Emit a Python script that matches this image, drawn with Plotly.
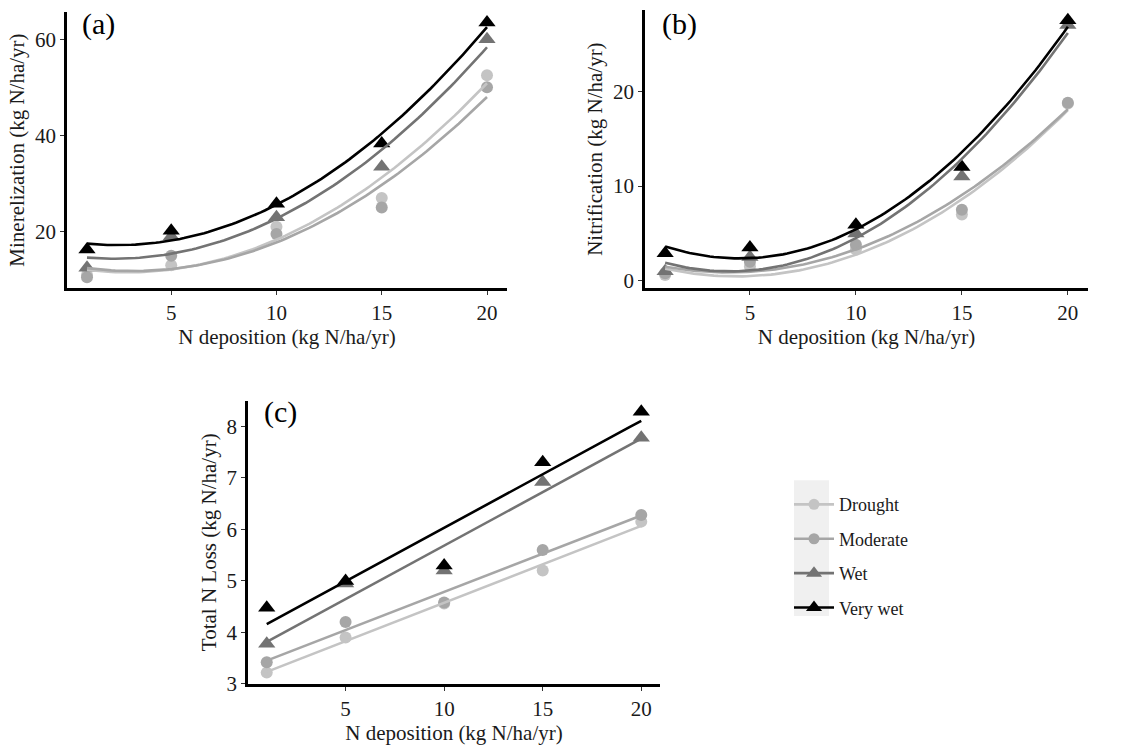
import numpy as np
import plotly.graph_objects as go

# ---------------- data ----------------
n_dep = [1, 5, 10, 15, 20]
groups = ["Drought", "Moderate", "Wet", "Very wet"]

miner = {
    "Drought":  [11.0, 13.0, 21.0, 27.0, 52.5],
    "Moderate": [10.5, 15.0, 19.5, 25.0, 50.0],
    "Wet":      [12.5, 19.0, 23.0, 33.5, 60.0],
    "Very wet": [16.3, 20.2, 25.8, 38.3, 63.5],
}
nitri = {
    "Drought":  [0.6, 1.5, 3.3, 7.0, 18.7],
    "Moderate": [0.8, 2.0, 3.8, 7.5, 18.8],
    "Wet":      [1.0, 2.5, 5.0, 11.0, 27.0],
    "Very wet": [2.9, 3.5, 5.9, 12.0, 27.5],
}
nloss = {
    "Drought":  [3.22, 3.90, 4.56, 5.20, 6.15],
    "Moderate": [3.42, 4.20, 4.58, 5.60, 6.28],
    "Wet":      [3.78, 4.95, 5.20, 6.92, 7.78],
    "Very wet": [4.48, 5.00, 5.30, 7.30, 8.28],
}
y_titles = ["Minerelization (kg N/ha/yr)", "Nitrification (kg N/ha/yr)", "Total N Loss (kg N/ha/yr)"]
x_title = "N deposition (kg N/ha/yr)"
panel_labels = ["(a)", "(b)", "(c)"]
x_ticks = [5, 10, 15, 20]
y_ticks = [[20, 40, 60], [0, 10, 20], [3, 4, 5, 6, 7, 8]]

# ---------------- styles ----------------
colors = {"Drought": "#c4c4c4", "Moderate": "#a6a6a6", "Wet": "#737373", "Very wet": "#000000"}
symbols = {"Drought": "circle", "Moderate": "circle", "Wet": "triangle-up", "Very wet": "triangle-up"}
msize = {"Drought": 12, "Moderate": 12, "Wet": 15, "Very wet": 15}
FONT = "Liberation Serif"
W, H = 1122, 755

def px_x(p):
    return p / W

def px_y(p):
    return 1 - p / H

fig = go.Figure()
datasets = [(miner, 2), (nitri, 2), (nloss, 1)]
xfit = np.linspace(1, 20, 100)
for i, (ds, deg) in enumerate(datasets):
    ax = "" if i == 0 else str(i + 1)
    for g in groups:
        fig.add_trace(go.Scatter(
            x=n_dep, y=ds[g], mode="markers", xaxis="x" + ax, yaxis="y" + ax,
            marker=dict(symbol=symbols[g], size=msize[g], color=colors[g], line=dict(width=0)),
            showlegend=False, hoverinfo="skip"))
    for g in groups:
        coef = np.polyfit(n_dep, ds[g], deg)
        fig.add_trace(go.Scatter(
            x=xfit, y=np.polyval(coef, xfit), mode="lines", xaxis="x" + ax, yaxis="y" + ax,
            line=dict(color=colors[g], width=2.6), showlegend=False, hoverinfo="skip"))

# legend entries
for k, g in enumerate(groups):
    fig.add_trace(go.Scatter(
        x=[None], y=[None], mode="lines+markers", name=g, legendgroup=g,
        xaxis="x3", yaxis="y3",
        marker=dict(symbol=symbols[g], size=msize[g] - 1, color=colors[g]),
        line=dict(color=colors[g], width=2.6)))

x_domains = [(67, 507), (645, 1088), (248, 660)]
y_domains = [(12, 293), (10, 293), (407, 695)]
y_ranges = [(8.2, 65.7), (-0.8, 28.6), (3.0, 8.5)]

axis_common = dict(
    showline=True, linecolor="black", linewidth=2.6, showgrid=False, zeroline=False,
    ticks="outside", ticklen=4, tickwidth=1, tickcolor="#333333",
    tickfont=dict(family=FONT, size=21, color="#1a1a1a"),
)
layout = {}
for i in range(3):
    ax = "" if i == 0 else str(i + 1)
    xd = x_domains[i]
    yd = y_domains[i]
    layout["xaxis" + ax] = dict(
        axis_common, domain=[px_x(xd[0]), px_x(xd[1])], range=[0.05, 20.95],
        tickvals=x_ticks, anchor="y" + ax,
        title=dict(text=x_title, font=dict(family=FONT, size=21, color="#1a1a1a"), standoff=3))
    layout["yaxis" + ax] = dict(
        axis_common, domain=[px_y(yd[1]), px_y(yd[0])], range=list(y_ranges[i]),
        tickvals=y_ticks[i], anchor="x" + ax,
        title=dict(text=y_titles[i], font=dict(family=FONT, size=21, color="#1a1a1a"), standoff=5))

annotations = []
label_pos = [(80, 24), (660, 24), (262, 419)]
for i, lab in enumerate(panel_labels):
    annotations.append(dict(
        text=lab, x=px_x(label_pos[i][0]), y=px_y(label_pos[i][1]), xref="paper", yref="paper",
        xanchor="left", yanchor="middle", showarrow=False,
        font=dict(family=FONT, size=30, color="black")))

fig.update_layout(
    **layout,
    width=W, height=H, margin=dict(l=0, r=0, t=0, b=0),
    paper_bgcolor="white", plot_bgcolor="white",
    annotations=annotations,
    shapes=[dict(type="rect", xref="paper", yref="paper",
                 x0=px_x(794), x1=px_x(829), y0=px_y(626), y1=px_y(488),
                 fillcolor="#f0f0f0", line=dict(width=0), layer="below")],
    legend=dict(x=px_x(789), y=px_y(494), xanchor="left", yanchor="top",
                bgcolor="rgba(0,0,0,0)", borderwidth=0, itemwidth=40,
                tracegroupgap=8,
                font=dict(family=FONT, size=18, color="#1a1a1a")),
)
fig.write_html("out.html")
